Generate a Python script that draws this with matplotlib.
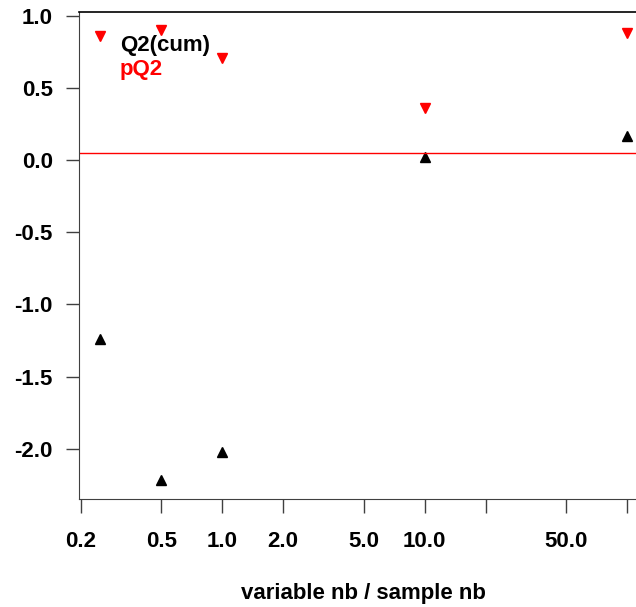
import matplotlib
matplotlib.use("Agg")
import matplotlib.pyplot as plt
from matplotlib.lines import Line2D

# ratio variable nb / sample nb
ratio = [0.25, 0.5, 1.0, 10.0, 100.0]
q2_cum = [-1.24, -2.22, -2.02, 0.02, 0.17]
p_q2 = [0.86, 0.90, 0.71, 0.36, 0.88]
threshold = 0.05

xticks = [0.2, 0.5, 1, 2, 5, 10, 20, 50, 100]
xticklabels = ["0.2", "0.5", "1.0", "2.0", "5.0", "10.0", "", "50.0", ""]
yticks = [-2.0, -1.5, -1.0, -0.5, 0.0, 0.5, 1.0]
yticklabels = ["-2.0", "-1.5", "-1.0", "-0.5", "0.0", "0.5", "1.0"]

plt.rcParams["font.family"] = ["Liberation Sans", "DejaVu Sans"]
plt.rcParams["font.weight"] = "bold"

fig = plt.figure(figsize=(6.36, 6.07), dpi=100)
# plot region runs past the right edge, like the cropped original
ax = fig.add_axes([0.1247, 0.1774, 0.8947, 0.8023])

ax.plot(ratio, q2_cum, linestyle="none", marker="^", markersize=7.8, color="black")
ax.plot(ratio, p_q2, linestyle="none", marker="v", markersize=7.8, color="red")
ax.axhline(threshold, color="red", linewidth=1)

ax.set_xscale("log")
ax.set_xlim(0.1968, 127.1)
ax.set_ylim(-2.351, 1.024)

ax.set_xticks(xticks)
ax.set_xticklabels(xticklabels)
ax.minorticks_off()
ax.set_yticks(yticks)
ax.set_yticklabels(yticklabels)
ax.tick_params(axis="both", labelsize=16, color="#404040", width=1)
ax.tick_params(axis="y", length=9.5, pad=9.5)
ax.tick_params(axis="x", length=10, pad=13)

for side in ["left", "bottom"]:
    ax.spines[side].set_color("#404040")
ax.spines["top"].set_color("black")
ax.spines["top"].set_linewidth(1.2)

ax.set_xlabel("variable nb / sample nb", fontsize=16, fontweight="bold", labelpad=22)

blank = [Line2D([], [], linestyle="none"), Line2D([], [], linestyle="none")]
ax.legend(blank, ["Q2(cum)", "pQ2"], loc="upper left", frameon=False,
          handlelength=0, handletextpad=0, labelcolor=["black", "red"],
          prop={"size": 16, "weight": "bold"}, labelspacing=0.15,
          bbox_to_anchor=(0.036, 0.995))

fig.savefig("out.png", dpi=100)
